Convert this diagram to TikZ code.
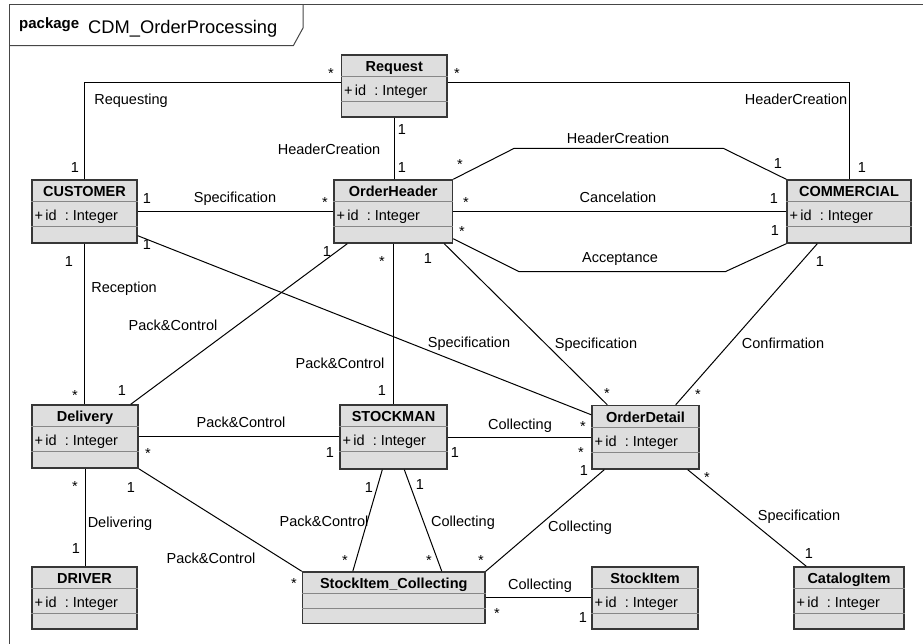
\documentclass[tikz,border=0pt]{standalone}
\usepackage{fontspec}
\setmainfont{Liberation Sans}
\usetikzlibrary{fit}

\definecolor{boxfill}{RGB}{222,222,222}
\definecolor{boxline}{RGB}{55,55,55}
\definecolor{divline}{RGB}{135,135,135}
\definecolor{framegray}{RGB}{70,70,70}

\newcommand{\umlfont}{\fontsize{14.5}{17}\selectfont}

% \umlclass{name}{left}{top}{right}{bottom}{title}{attribute}{divider 1}{divider 2}
\newcommand{\umlclass}[9]{%
  \node[classbox, fit={(#2,#3) (#4,#5)}] (#1) {};
  \draw[divider] ([yshift=-#8pt]#1.north west) -- ([yshift=-#8pt]#1.north east);
  \draw[divider] ([yshift=-#9pt]#1.north west) -- ([yshift=-#9pt]#1.north east);
  \node[cname] (#1-name) at ([yshift=-17.5pt]#1.north) {#6};
  \node[cattr] (#1-attr) at ([xshift=3pt,yshift=-41.5pt]#1.north west) {#7};
}

\begin{document}
\begin{tikzpicture}[x=1pt,y=-1pt,
  classbox/.style={draw=boxline, fill=boxfill, line width=1.4pt, inner sep=0pt},
  divider/.style={draw=divline, line width=0.9pt},
  cname/.style={anchor=base, inner sep=0pt, font=\bfseries\umlfont},
  cattr/.style={anchor=base west, inner sep=0pt, font=\umlfont},
  conn/.style={draw=black, line width=1pt},
  assoc/.style={anchor=base, inner sep=0pt, yshift=-5pt, font=\umlfont},
  mstar/.style={anchor=base, inner sep=0pt, yshift=-8.4pt, font=\umlfont},
  frameline/.style={draw=framegray, line width=1pt}]

\useasboundingbox (0,0) rectangle (923,644);

% package frame and its tab
\draw[frameline] (9.5,650) -- (9.5,5) -- (930,5);
\draw[frameline] (303,5) -- (303,28) -- (293.3,45.7) -- (9.5,45.7);
\node[anchor=base west, inner sep=0pt, font=\bfseries\fontsize{15}{18}\selectfont] (pkgkw) at (19,28.5) {package};
\node[anchor=base west, inner sep=0pt, font=\fontsize{18.3}{21}\selectfont] (pkgname) at (88,33.5) {CDM\_OrderProcessing};

% classes
\newcommand{\attrid}{+\hspace{2.5pt}id\ \ :\ Integer}
\umlclass{Request}{341.5}{55}{447}{117}{Request}{\attrid}{22.5}{47}
\umlclass{CUSTOMER}{32}{180}{137}{243}{CUSTOMER}{\attrid}{22.5}{47.5}
\umlclass{OrderHeader}{334}{180}{452.5}{243}{OrderHeader}{\attrid}{22.5}{47.5}
\umlclass{COMMERCIAL}{787}{180}{911}{243}{COMMERCIAL}{\attrid}{22.5}{47.5}
\umlclass{Delivery}{32}{405}{138}{468}{Delivery}{\attrid}{22.5}{47.5}
\umlclass{STOCKMAN}{340}{405}{447}{469}{STOCKMAN}{\attrid}{22.5}{47.5}
\umlclass{OrderDetail}{592}{405.5}{699}{469}{OrderDetail}{\attrid}{22.5}{47.5}
\umlclass{DRIVER}{32}{567}{137}{629}{DRIVER}{\attrid}{22.5}{47.5}
\umlclass{SIC}{302.5}{572}{485}{623.5}{StockItem\_Collecting}{}{21.7}{36.7}
\umlclass{StockItem}{592}{567}{698}{629}{StockItem}{\attrid}{22.5}{47.5}
\umlclass{CatalogItem}{794}{567}{904}{629}{CatalogItem}{\attrid}{22.5}{47.5}

% associations
\draw[conn] ([yshift=-28pt]Request.north west) -| (CUSTOMER.north);
\draw[conn] ([yshift=-28pt]Request.north east) -| (COMMERCIAL.north);
\draw[conn] (Request.south) -- (Request.south |- OrderHeader.north);
\draw[conn] (OrderHeader.north east) -- ++(61,-31) -- ++(209,0) -- (COMMERCIAL.north west);
\draw[conn] (OrderHeader.east) -- (COMMERCIAL.west);
\draw[conn] ([yshift=5pt]OrderHeader.south east) -- ++(66,33) -- ++(206,0) -- (COMMERCIAL.south west);
\draw[conn] (CUSTOMER.east) -- (OrderHeader.west);
\draw[conn] ([yshift=8pt]CUSTOMER.south east) -- ([yshift=-10pt]OrderDetail.north west);
\draw[conn] (CUSTOMER.south) -- (CUSTOMER.south |- Delivery.north);
\draw[conn] ([xshift=14pt]OrderHeader.south west) -- ([xshift=-8pt]Delivery.north east);
\draw[conn] (OrderHeader.south) -- (OrderHeader.south |- STOCKMAN.north);
\draw[conn] ([xshift=-9pt]OrderHeader.south east) -- ([xshift=16pt]OrderDetail.north west);
\draw[conn] ([xshift=31pt]COMMERCIAL.south west) -- ([xshift=-24pt]OrderDetail.north east);
\draw[conn] (Delivery.east) -- (Delivery.east -| STOCKMAN.west);
\draw[conn] (STOCKMAN.east) -- (STOCKMAN.east -| OrderDetail.west);
\draw[conn] (Delivery.south) -- (Delivery.south |- DRIVER.north);
\draw[conn] (Delivery.south east) -- (SIC.north west);
\draw[conn] ([xshift=43pt]STOCKMAN.south west) -- ([xshift=51pt]SIC.north west);
\draw[conn] ([xshift=65pt]STOCKMAN.south west) -- ([xshift=140pt]SIC.north west);
\draw[conn] ([xshift=13pt]OrderDetail.south west) -- (SIC.north east);
\draw[conn] (SIC.east) -- (SIC.east -| StockItem.west);
\draw[conn] ([xshift=-12pt]OrderDetail.south east) -- ([xshift=13pt]CatalogItem.north west);

% association names
\node[assoc] (aReq)   at (131,100) {Requesting};
\node[assoc] (aHC1)   at (796,100) {HeaderCreation};
\node[assoc] (aHC2)   at (329,150) {HeaderCreation};
\node[assoc] (aHC3)   at (618,139) {HeaderCreation};
\node[assoc] (aCanc)  at (618,198) {Cancelation};
\node[assoc] (aAcc)   at (620,257) {Acceptance};
\node[assoc] (aSpec1) at (235,198) {Specification};
\node[assoc] (aRec)   at (124,287) {Reception};
\node[assoc] (aPC1)   at (173,325) {Pack\&Control};
\node[assoc] (aSpec2) at (469,342) {Specification};
\node[assoc] (aSpec3) at (596,343) {Specification};
\node[assoc] (aConf)  at (783,343) {Confirmation};
\node[assoc] (aPC2)   at (340,363) {Pack\&Control};
\node[assoc] (aPC3)   at (241,422) {Pack\&Control};
\node[assoc] (aCol1)  at (520,424) {Collecting};
\node[assoc] (aDel)   at (120,522) {Delivering};
\node[assoc] (aPC4)   at (324,521) {Pack\&Control};
\node[assoc] (aCol2)  at (463,521) {Collecting};
\node[assoc] (aCol3)  at (580,526) {Collecting};
\node[assoc] (aPC5)   at (211,558) {Pack\&Control};
\node[assoc] (aCol4)  at (540,584) {Collecting};
\node[assoc] (aSpec4) at (799,515) {Specification};

% multiplicities
\node[mstar] (m1)  at (331,70) {*};
\node[assoc] (m2)  at (75,168) {1};
\node[mstar] (m3)  at (457,70) {*};
\node[assoc] (m4)  at (862,168) {1};
\node[assoc] (m5)  at (402,130) {1};
\node[assoc] (m6)  at (402,168) {1};
\node[mstar] (m7)  at (460,161) {*};
\node[assoc] (m8)  at (778,164) {1};
\node[mstar] (m9)  at (466,199) {*};
\node[assoc] (m10) at (774,199) {1};
\node[mstar] (m11) at (462,228) {*};
\node[assoc] (m12) at (775,231) {1};
\node[assoc] (m13) at (147,199) {1};
\node[mstar] (m14) at (325,199) {*};
\node[assoc] (m15) at (147,245) {1};
\node[mstar] (m16) at (583,423) {*};
\node[assoc] (m17) at (69,262) {1};
\node[mstar] (m18) at (75,392) {*};
\node[assoc] (m19) at (327,252) {1};
\node[assoc] (m20) at (122,390) {1};
\node[mstar] (m21) at (382,258) {*};
\node[assoc] (m22) at (382,390) {1};
\node[assoc] (m23) at (428,259) {1};
\node[mstar] (m24) at (607,390) {*};
\node[assoc] (m25) at (820,262) {1};
\node[mstar] (m26) at (698,391) {*};
\node[mstar] (m27) at (148,450) {*};
\node[assoc] (m28) at (330,452) {1};
\node[assoc] (m29) at (455,452) {1};
\node[mstar] (m30) at (581,449) {*};
\node[mstar] (m31) at (75,483) {*};
\node[assoc] (m32) at (76,548) {1};
\node[assoc] (m33) at (131,487) {1};
\node[mstar] (m34) at (294,580) {*};
\node[assoc] (m35) at (369,487) {1};
\node[mstar] (m36) at (345,557) {*};
\node[assoc] (m37) at (420,484) {1};
\node[mstar] (m38) at (429,557) {*};
\node[assoc] (m39) at (584,470) {1};
\node[mstar] (m40) at (481,557) {*};
\node[mstar] (m41) at (497,610) {*};
\node[assoc] (m42) at (583,617) {1};
\node[mstar] (m43) at (707,474) {*};
\node[assoc] (m44) at (809,553) {1};

\end{tikzpicture}
\end{document}
